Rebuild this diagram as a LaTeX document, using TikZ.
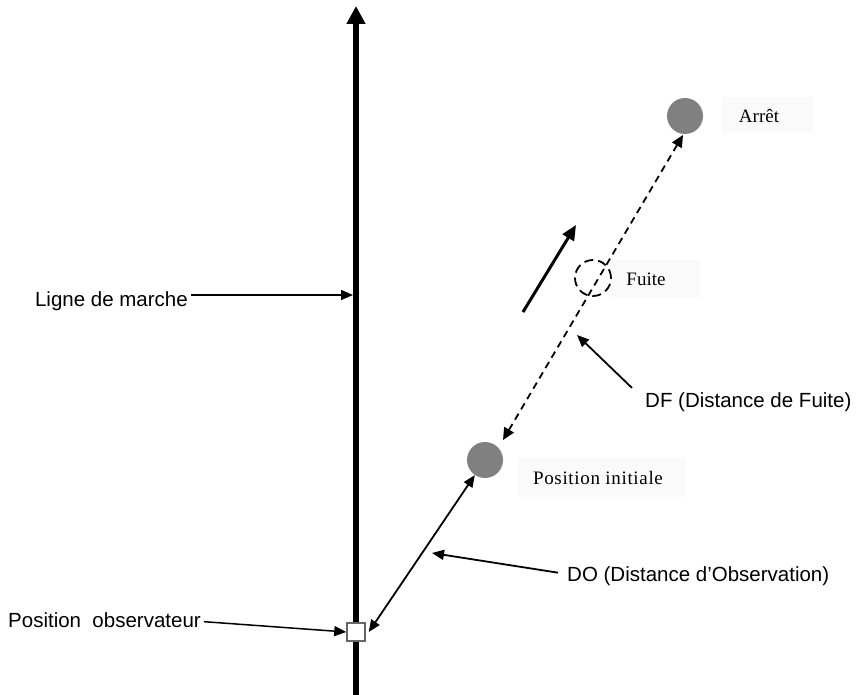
\documentclass[tikz,border=0pt]{standalone}
\usepackage{fontspec}
\setmainfont{Liberation Serif}
\newfontfamily\arialf{Liberation Sans}
\newfontfamily\spacedserif[LetterSpace=3.5]{Liberation Serif}
\usetikzlibrary{arrows.meta,calc}
\begin{document}
\begin{tikzpicture}[x=1pt,y=-1pt,
  lbl/.style={font=\arialf\fontsize{20.5}{24}\selectfont, inner sep=0pt},
  slbl/.style={font=\fontsize{19}{22}\selectfont, inner sep=0pt},
  bgbox/.style={fill=black!2, draw=none},
  bird/.style={circle, fill=black!50, minimum size=36pt, inner sep=0pt},
  obsbox/.style={rectangle, fill=white, draw=black!60, line width=1.5pt, minimum size=18pt, inner sep=0pt},
  thinarrow/.style={line width=1.5pt, -{Triangle[length=12pt,width=10pt]}},
  medarrow/.style={line width=1.8pt, -{Triangle[length=12pt,width=10pt]}},
  dblarrow/.style={line width=1.8pt, {Triangle[length=12pt,width=10pt]}-{Triangle[length=12pt,width=10pt]}},
  dasharrow/.style={line width=1.8pt, dash pattern=on 7pt off 5pt, {Triangle[length=12pt,width=11pt]}-{Triangle[length=12pt,width=11pt]}},
  mainline/.style={line width=5.5pt, -{Triangle[length=18pt,width=18pt]}},
  movearrow/.style={line width=3pt, -{Triangle[length=15pt,width=13pt]}}
]
\useasboundingbox (0,0) rectangle (860,695);

% light backgrounds of serif labels
\fill[bgbox] (722,97) rectangle (813,133);
\fill[bgbox] (612,260) rectangle (700,298);
\fill[bgbox] (518,458) rectangle (685,497);

% main walking line
\coordinate (lbot) at (356,695);
\coordinate (ltop) at (356,6);
\draw[mainline] (lbot) -- (ltop);

% observer position
\node[obsbox] (obs) at (356,632) {};

% birds
\node[bird] (init) at (485,460) {};
\node[bird] (arret) at (685,116) {};
\node[circle, draw, line width=1.8pt, dash pattern=on 9pt off 5pt, minimum size=36pt, inner sep=0pt] (fuite) at (593,278) {};

% serif labels
\node[slbl] (tArret) at (759,116) {Arrêt};
\node[slbl] (tFuite) at (646,279) {Fuite};
\node[slbl, font=\spacedserif\fontsize{19}{22}\selectfont] (tInit) at (598,478) {Position initiale};

% dashed double arrow (flight distance)
\coordinate (dA) at ([shift={(18,-20)}]init.center);
\coordinate (dB) at ([shift={(-2,19)}]arret.center);
\draw[dasharrow] (dA) -- (dB);

% movement arrow
\coordinate (mvA) at (523,312);
\coordinate (mvB) at (576,225);
\draw[movearrow] (mvA) -- (mvB);

% DO double arrow
\coordinate (doA) at ([shift={(3,0)}]obs.east);
\draw[dblarrow] (doA) -- (init);

% sans labels
\node[lbl, anchor=base east] (tLigne) at (188,307) {Ligne de marche};
\node[lbl, anchor=base west] (tPobs) at (8,627) {Position\ \ observateur};
\node[lbl, anchor=base west] (tDF) at (645,407) {DF (Distance de Fuite)};
\node[lbl, anchor=base west] (tDO) at (567,581) {DO (Distance d’Observation)};

% label arrows
\coordinate (lmT) at (353,295);
\draw[thinarrow] ([xshift=3pt]tLigne.east |- lmT) -- (lmT);
\draw[thinarrow] ([shift={(3,2)}]tPobs.east) -- (obs.west);
\coordinate (dfT) at (577,335);
\draw[medarrow] ([shift={(-13,-4)}]tDF.north west) -- (dfT);
\coordinate (doT) at (432,553);
\draw[medarrow] ([shift={(-9,-3)}]tDO.west) -- (doT);
\end{tikzpicture}
\end{document}
